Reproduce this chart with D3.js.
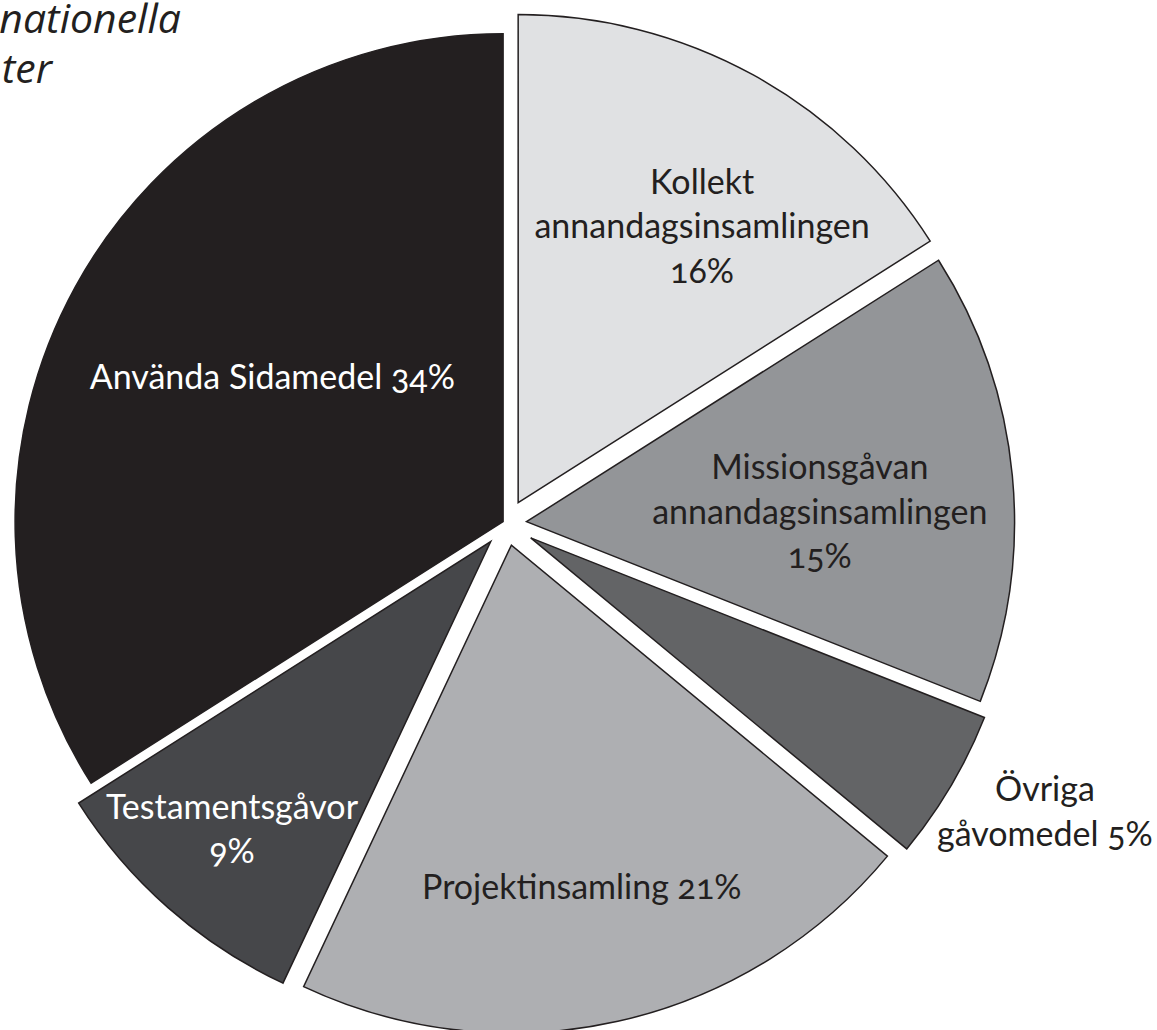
<!DOCTYPE html>
<html>
<head>
<meta charset="utf-8">
<script src="https://cdn.jsdelivr.net/npm/d3@7"></script>
<style>
  html, body { margin: 0; padding: 0; background: #fff; }
  svg { display: block; }
  text { font-family: Lato, "Open Sans", sans-serif; font-variant-numeric: oldstyle-nums; }
  .title text { font-family: "Open Sans", Lato, sans-serif; }
</style>
</head>
<body>
<div id="pie"></div>
<script>
// data, clockwise from 12 o'clock
const categories = ['Kollekt annandagsinsamlingen', 'Missionsgåvan annandagsinsamlingen', 'Övriga gåvomedel', 'Projektinsamling', 'Testamentsgåvor', 'Använda Sidamedel']
const shares = [16, 15, 5, 21, 9, 34]
const labelLines = [
  ['Kollekt', 'annandagsinsamlingen', '16%'],
  ['Missionsgåvan', 'annandagsinsamlingen', '15%'],
  ['Övriga', 'gåvomedel 5%'],
  ['Projektinsamling 21%'],
  ['Testamentsgåvor', '9%'],
  ['Använda Sidamedel 34%']
]
const titleLines = ['nationella', 'ter']

// styling / placement
const fills = ['#e0e1e3', '#939598', '#636466', '#aeafb2', '#46474a', '#231f20']
const textFills = ['#231f20', '#231f20', '#231f20', '#231f20', '#ffffff', '#ffffff']
const explode = [24, 20, 28, 22, 24, 4]
const labelRadius = [0.724, 0.642, 1.254, 0.766, 0.846, 0.563]
const labelTurn = [4.8, 3.8, -2.2, 1.0, 0.3, 2.7] // degrees off the bisector

const dims = { width: 1157, height: 1030 }
const center = { x: 506.6, y: 523.6 }
const radius = 488
const lineHeight = 44.5
const fontSize = 34

const svg = d3.select('#pie')
  .append('svg')
  .attr('width', dims.width)
  .attr('height', dims.height)

const pie = d3.pie().sort(null).value(d => d)
const arcs = pie(shares)
const arc = d3.arc().innerRadius(0).outerRadius(radius)

const chart = svg.append('g')
  .attr('transform', `translate(${center.x}, ${center.y})`)

const mid = d => (d.startAngle + d.endAngle) / 2

chart.selectAll('path.slice')
  .data(arcs)
  .enter()
  .append('path')
  .classed('slice', true)
  .attr('d', arc)
  .attr('fill', (d, i) => fills[i])
  .attr('stroke', '#231f20')
  .attr('stroke-width', 1.5)
  .attr('stroke-linejoin', 'miter')
  .attr('transform', (d, i) => {
    const a = mid(d)
    return `translate(${Math.sin(a) * explode[i]}, ${-Math.cos(a) * explode[i]})`
  })
  .append('title').text((d, i) => `${categories[i]} ${shares[i]}%`)

// labels
chart.selectAll('text.label')
  .data(arcs)
  .enter()
  .append('text')
  .classed('label', true)
  .attr('text-anchor', 'middle')
  .attr('font-size', fontSize)
  .attr('fill', (d, i) => textFills[i])
  .each(function (d, i) {
    const a = mid(d) + labelTurn[i] * Math.PI / 180
    const r = labelRadius[i] * radius
    const cx = Math.sin(a) * r
    const cy = -Math.cos(a) * r
    const lines = labelLines[i]
    d3.select(this).selectAll('tspan')
      .data(lines)
      .enter()
      .append('tspan')
      .attr('x', cx)
      .attr('y', (l, j) => cy + 9 + (j - (lines.length - 1) / 2) * lineHeight)
      .text(l => l)
  })

// title, cut off at the left edge like the source
svg.append('g').classed('title', true)
  .selectAll('text')
  .data(titleLines)
  .enter()
  .append('text')
  .attr('text-anchor', 'end')
  .attr('x', (d, i) => i === 0 ? 181 : 52)
  .attr('y', (d, i) => 33 + i * 50)
  .attr('font-size', 41)
  .attr('font-style', 'italic')
  .attr('fill', '#231f20')
  .text(d => d)
</script>
</body>
</html>
